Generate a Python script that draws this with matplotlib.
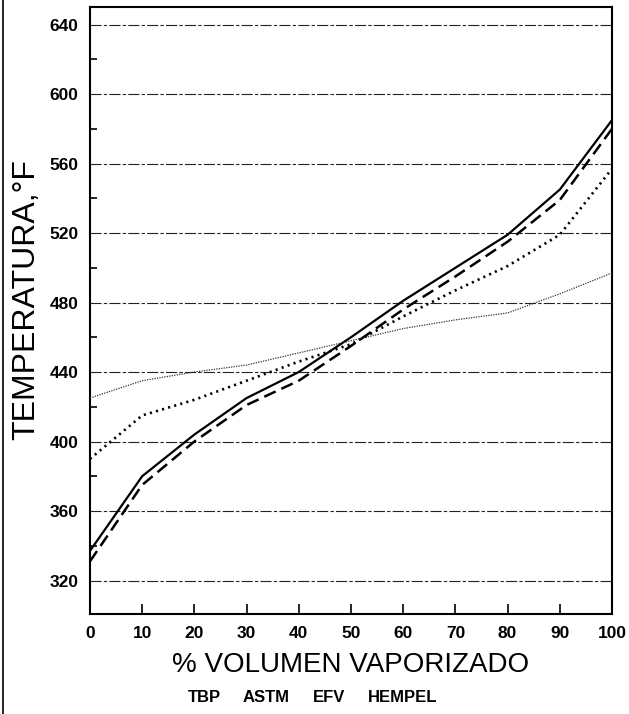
import matplotlib
matplotlib.use("Agg")
import matplotlib.pyplot as plt
from matplotlib.lines import Line2D
from matplotlib.ticker import MultipleLocator

plt.rcParams['font.family'] = ['Liberation Sans', 'DejaVu Sans']

# % volumen vaporizado
volumen = [0, 10, 20, 30, 40, 50, 60, 70, 80, 90, 100]
# temperaturas, °F
tbp = [337, 380, 404, 425, 440, 460, 481, 500, 519, 545, 585]
astm = [331, 375, 400, 421, 435, 455, 476, 495, 515, 539, 580]
efv = [390, 415, 424, 435, 446, 456, 472, 487, 501, 519, 557]
hempel = [425, 435, 440, 444, 451, 458, 465, 470, 474, 485, 497]
nombres = ["TBP", "ASTM", "EFV", "HEMPEL"]

y_ticks = [320, 360, 400, 440, 480, 520, 560, 600, 640]
x_ticks = [0, 10, 20, 30, 40, 50, 60, 70, 80, 90, 100]

fig, ax = plt.subplots(figsize=(6.29, 7.14), dpi=100)
fig.subplots_adjust(left=0.143, right=0.973, top=0.990, bottom=0.140)

for y in y_ticks:
    ax.axhline(y, color='#222222', lw=0.8, ls=(0, (10, 2, 3, 2)), zorder=1)

ax.plot(volumen, tbp, color='black', lw=1.6, ls='-', zorder=3)
ax.plot(volumen, astm, color='black', lw=1.8, ls=(0, (5, 2.5)), zorder=3)
ax.plot(volumen, efv, color='black', lw=1.9, ls=(0, (0.8, 1.6)), zorder=3)
ax.plot(volumen, hempel, color='#333333', lw=0.9, ls=(0, (1, 1)), zorder=3)

ax.set_xlim(0, 100)
ax.set_ylim(300.7, 650)
ax.set_xticks(x_ticks)
ax.set_yticks(y_ticks)
ax.yaxis.set_minor_locator(MultipleLocator(20))
ax.tick_params(axis='both', which='major', direction='in', length=7, width=1.2,
               labelsize=12.5, pad=8.5)
ax.tick_params(axis='y', which='minor', direction='in', length=5, width=1.2)
ax.tick_params(axis='y', which='major', length=0)
for lab in ax.get_xticklabels() + ax.get_yticklabels():
    lab.set_fontweight('bold')
for s in ax.spines.values():
    s.set_linewidth(1.5)

# titulos de los ejes
fig.text(0.558, 1 - 665 / 714, "% VOLUMEN VAPORIZADO", fontsize=20,
         ha='center', va='center')
fig.text(26 / 629, 1 - 300 / 714, "TEMPERATURA,°F", fontsize=23,
         rotation=90, ha='center', va='center')

# leyenda solo con texto, como en el original
x_nombres = [188, 243, 313, 368]
for x, nombre in zip(x_nombres, nombres):
    fig.text(x / 629, 1 - 698 / 714, nombre, fontsize=12, fontweight='bold',
             ha='left', va='center')

# borde de la hoja a la izquierda
fig.add_artist(Line2D([0.005, 0.005], [0, 1], transform=fig.transFigure,
                      color='black', lw=1.2))

fig.savefig("out.png", dpi=100)
